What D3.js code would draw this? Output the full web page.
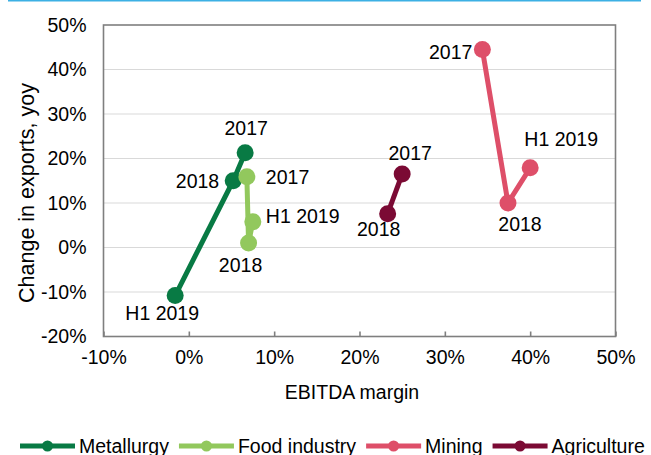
<!DOCTYPE html>
<html>
<head>
<meta charset="utf-8">
<script src="https://cdnjs.cloudflare.com/ajax/libs/d3/7.8.5/d3.min.js"></script>
<style>
  body { margin: 0; background: #fff; }
  svg text { font-family: Arial, "Liberation Sans", sans-serif; fill: #000; }
</style>
</head>
<body>
<svg id="chart" width="651" height="455"></svg>
<script>
// data (percent)
var sectors = ["Metallurgy", "Food industry", "Mining", "Agriculture"];
var colors = ["#087a44", "#92c85d", "#de4f69", "#7b0a34"];
var periods = [
  ["2017", "2018", "H1 2019"],
  ["2017", "2018", "H1 2019"],
  ["2017", "2018", "H1 2019"],
  ["2017", "2018"]
];
var ebitda = [
  [6.6, 5.2, -1.6],
  [6.8, 7.0, 7.5],
  [34.4, 37.4, 40.0],
  [25.0, 23.3]
];
var exportsYoy = [
  [21.3, 15.0, -10.8],
  [15.9, 1.0, 5.8],
  [44.5, 10.0, 17.9],
  [16.5, 7.6]
];
var xTicks = [-10, 0, 10, 20, 30, 40, 50];
var yTicks = [-20, -10, 0, 10, 20, 30, 40, 50];

// label placement: [dx, dy, anchor] relative to the point
var labelPos = [
  [[1, -25, "middle"], [-14, 0, "end"], [-13, 18, "middle"]],
  [[19, 0, "start"], [-8, 22, "middle"], [13, -6, "start"]],
  [[-10, 3, "end"], [12, 21, "middle"], [31, -29, "middle"]],
  [[8, -21, "middle"], [-9, 15, "middle"]]
];

var svg = d3.select("#chart");
var plotL = 103.5, plotR = 615.5, plotT = 25, plotB = 336.5;

var x = d3.scaleLinear().domain([-10, 50]).range([plotL, plotR]);
var y = d3.scaleLinear().domain([-20, 50]).range([plotB, plotT]);

// top blue rule
svg.append("line")
  .attr("x1", 8).attr("x2", 641).attr("y1", 0.5).attr("y2", 0.5)
  .attr("stroke", "#3cb0e4").attr("stroke-width", 2);

// gridlines
svg.append("g").selectAll("line")
  .data(yTicks.slice(1, -1))
  .join("line")
  .attr("x1", plotL).attr("x2", plotR)
  .attr("y1", function(d) { return y(d); })
  .attr("y2", function(d) { return y(d); })
  .attr("stroke", "#d9d9d9").attr("stroke-width", 1.2);

// frame
svg.append("rect")
  .attr("x", plotL).attr("y", plotT)
  .attr("width", plotR - plotL).attr("height", plotB - plotT)
  .attr("fill", "none").attr("stroke", "#7f7f7f").attr("stroke-width", 1.6);

// x axis ticks (inward) + labels
var xAxis = d3.axisBottom(x).tickValues(xTicks).tickSizeInner(-5).tickSizeOuter(0)
  .tickPadding(14).tickFormat(function(d) { return d + "%"; });
var gx = svg.append("g").attr("transform", "translate(0," + plotB + ")").call(xAxis);
gx.select(".domain").remove();
gx.selectAll(".tick line").attr("stroke", "#7f7f7f").attr("stroke-width", 1.6);
gx.selectAll(".tick text").style("font-size", "19.5px").attr("fill", "#000");

// y axis labels
var yAxis = d3.axisLeft(y).tickValues(yTicks).tickSize(0).tickPadding(17)
  .tickFormat(function(d) { return d + "%"; });
var gy = svg.append("g").attr("transform", "translate(" + plotL + ",0)").call(yAxis);
gy.select(".domain").remove();
gy.selectAll(".tick text").style("font-size", "19.5px").attr("fill", "#000");

// axis titles
svg.append("text")
  .attr("x", 352).attr("y", 399)
  .attr("text-anchor", "middle")
  .style("font-size", "19.5px")
  .text("EBITDA margin");

svg.append("text")
  .attr("transform", "translate(34,193) rotate(-90)")
  .attr("text-anchor", "middle")
  .style("font-size", "21.5px")
  .text("Change in exports, yoy");

// series
var line = d3.line()
  .x(function(d) { return x(d[0]); })
  .y(function(d) { return y(d[1]); });

sectors.forEach(function(name, i) {
  var pts = ebitda[i].map(function(v, j) { return [v, exportsYoy[i][j], periods[i][j]]; });
  var g = svg.append("g");
  g.append("path")
    .attr("d", line(pts))
    .attr("fill", "none")
    .attr("stroke", colors[i])
    .attr("stroke-width", 5)
    .attr("stroke-linejoin", "round");
  g.selectAll("circle")
    .data(pts)
    .join("circle")
    .attr("cx", function(d) { return x(d[0]); })
    .attr("cy", function(d) { return y(d[1]); })
    .attr("r", 8.5)
    .attr("fill", colors[i]);
  g.selectAll("text")
    .data(pts)
    .join("text")
    .attr("x", function(d, j) { return x(d[0]) + labelPos[i][j][0]; })
    .attr("y", function(d, j) { return y(d[1]) + labelPos[i][j][1]; })
    .attr("dy", "0.35em")
    .attr("text-anchor", function(d, j) { return labelPos[i][j][2]; })
    .style("font-size", "19.5px")
    .text(function(d) { return d[2]; });
});

// legend
var lx = 20, ly = 446;
sectors.forEach(function(name, i) {
  var g = svg.append("g");
  g.append("line")
    .attr("x1", lx).attr("x2", lx + 55)
    .attr("y1", ly).attr("y2", ly)
    .attr("stroke", colors[i]).attr("stroke-width", 5);
  g.append("circle")
    .attr("cx", lx + 27.5).attr("cy", ly).attr("r", 5.5)
    .attr("fill", colors[i]);
  var t = g.append("text")
    .attr("x", lx + 59).attr("y", ly).attr("dy", "0.35em")
    .style("font-size", "19.5px")
    .text(name);
  lx += 59 + t.node().getComputedTextLength() + 10;
});
</script>
</body>
</html>
